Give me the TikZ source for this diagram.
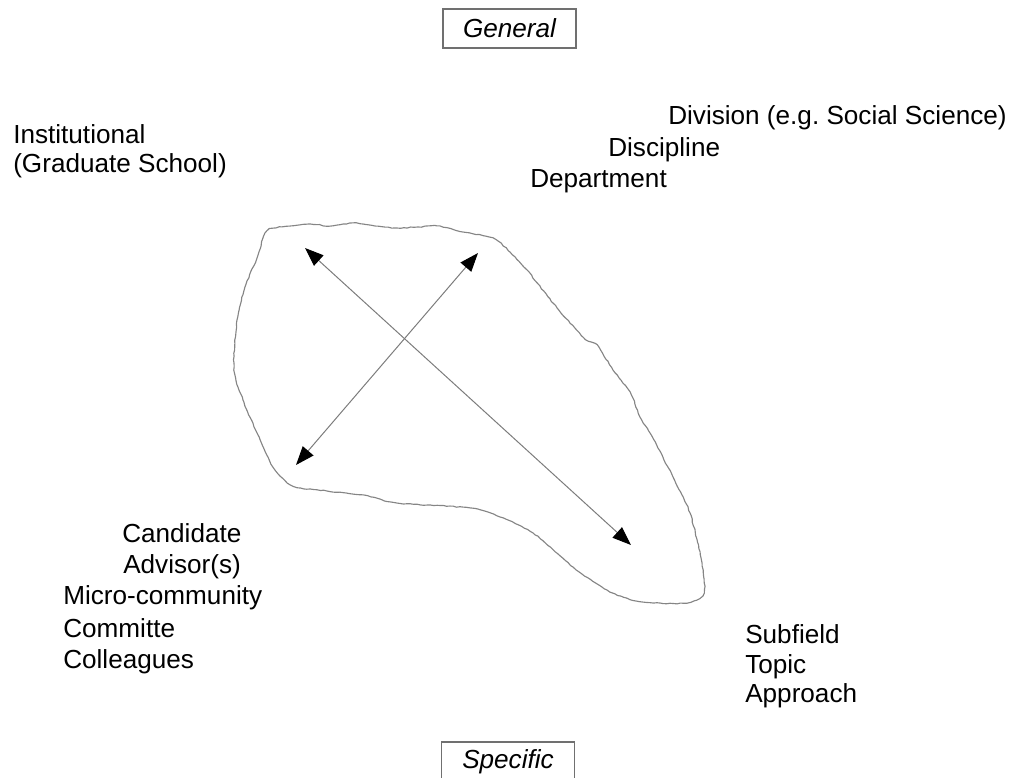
\documentclass[tikz,border=0pt]{standalone}
\usepackage{fontspec}
\setmainfont{Liberation Sans}
\usepackage{tikz}
\usetikzlibrary{arrows.meta,decorations.pathmorphing}
\definecolor{outlineColor}{HTML}{858585}
\definecolor{arrowColor}{HTML}{7C7C7C}
\definecolor{boxColor}{HTML}{707070}
\tikzstyle{level} = [anchor=base west, inner sep=0pt, font=\fontsize{19.6}{23}\selectfont]
\tikzstyle{scopebox} = [draw=boxColor, line width=0.8pt, minimum width=99.75pt, minimum height=29.25pt, inner sep=0pt, font=\fontsize{19.6}{23}\selectfont\itshape]
\tikzstyle{arrow} = [draw=arrowColor, line width=0.75pt, {Triangle[length=14pt,width=10.5pt,color=black]}-{Triangle[length=14pt,width=10.5pt,color=black]}]
\tikzstyle{blob} = [draw=outlineColor, line width=0.85pt, decorate, decoration={random steps, segment length=2.5pt, amplitude=0.35pt}]

\begin{document}
\begin{tikzpicture}[x=0.75pt, y=-0.75pt]
	\useasboundingbox (0,0) rectangle (1011,778);
	\clip (0,0) rectangle (1011,778);
	
	\node (general) [scopebox] at (509.5,28.5) {General};
	\node (specific) [scopebox] at (508,761.5) {Specific};
	
	\node (institutional) [level] at (13,143) {Institutional};
	\node (gradschool) [level] at (13,172) {(Graduate School)};
	
	\node (division) [level] at (668,124) {Division (e.g.\ Social Science)};
	\node (discipline) [level] at (608,156) {Discipline};
	\node (department) [level] at (530,187) {Department};
	
	\node (candidate) [level] at (122,542) {Candidate};
	\node (advisor) [level] at (123,573) {Advisor(s)};
	\node (microcommunity) [level] at (63,604) {Micro-community};
	\node (committee) [level] at (63,637) {Committe};
	\node (colleagues) [level] at (63,668) {Colleagues};
	
	\node (subfield) [level] at (745,643) {Subfield};
	\node (topic) [level] at (745,673) {Topic};
	\node (approach) [level] at (745,702) {Approach};
	
	% the community blob
	\draw [blob] plot [smooth cycle, tension=0.45] coordinates {
		(267,231) (290,226) (310,224) (330,226) (353,223) (375,226) (397,228)
		(418,227) (437,226) (463,232) (493,238) (510,252) (527,270) (553,303)
		(583,337) (597,345) (613,370) (630,392) (640,417) (650,433) (673,477)
		(690,513) (702,563) (704,593) (687,603) (643,602) (610,592) (573,567)
		(533,533) (500,517) (470,508) (397,503) (363,495) (327,491) (293,486)
		(273,467) (257,433) (243,400) (234,370) (237,320) (245,287) (257,258)};
	
	\coordinate (nw) at (305,248);
	\coordinate (se) at (631,545);
	\coordinate (ne) at (478,253);
	\coordinate (sw) at (296,465);
	
	\draw [arrow] (nw) -- (se);
	\draw [arrow] (sw) -- (ne);
	
\end{tikzpicture}
\end{document}
